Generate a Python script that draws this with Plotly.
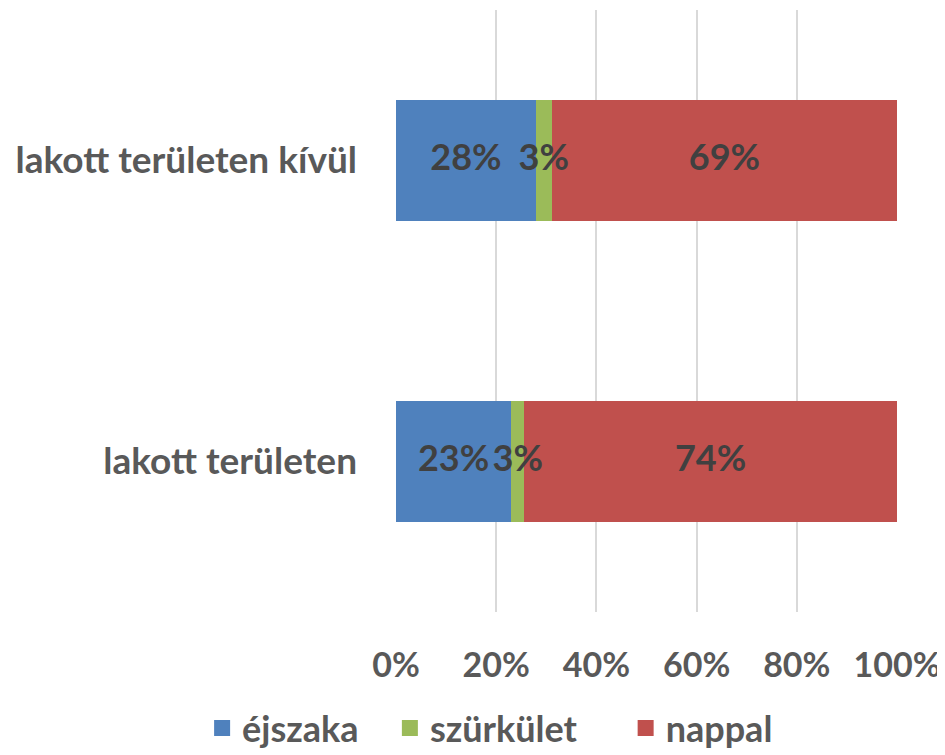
import plotly.graph_objects as go

categories = ["lakott területen", "lakott területen kívül"]
series_names = ["éjszaka", "szürkület", "nappal"]
ejszaka = [23.0, 27.9]
szurkulet = [2.6, 3.2]
nappal = [74.4, 68.9]
tick_vals = [0, 20, 40, 60, 80, 100]
tick_text = ["0%", "20%", "40%", "60%", "80%", "100%"]

colors = ["#4F81BD", "#9BBB59", "#C0504D"]
FONT = "Lato"
FS = 36

series = [ejszaka, szurkulet, nappal]

fig = go.Figure()
for name, vals, col in zip(series_names, series, colors):
    fig.add_trace(go.Bar(
        y=categories, x=vals, name=name, orientation="h",
        marker=dict(color=col, line=dict(width=0)),
        width=0.4, showlegend=False, hoverinfo="skip",
    ))

# data labels on top of all bars (centered on each segment)
lab_x, lab_y, lab_t = [], [], []
base = [0.0] * len(categories)
for vals in series:
    for i, v in enumerate(vals):
        lab_x.append(base[i] + v / 2)
        lab_y.append(categories[i])
        lab_t.append(f"{round(v):.0f}%")
        base[i] += v
fig.add_trace(go.Scatter(
    x=lab_x, y=lab_y, text=lab_t, mode="text", showlegend=False,
    textposition="middle center", cliponaxis=False, hoverinfo="skip",
    textfont=dict(family=FONT, size=FS, color="#404040", weight="bold"),
))

# legend entries (square swatches)
pads = ["\u00a0" * 3, "\u00a0" * 5, ""]
for name, col, pad in zip(series_names, colors, pads):
    fig.add_trace(go.Scatter(
        x=[None], y=[None], mode="markers",
        name=name + pad,
        marker=dict(symbol="square", size=16, color=col),
    ))

fig.update_layout(
    width=937, height=747,
    barmode="stack",
    margin=dict(l=388, r=48, t=2, b=143, autoexpand=False),
    plot_bgcolor="white", paper_bgcolor="white",
    showlegend=True,
    legend=dict(orientation="h", x=-0.387, xanchor="left",
                y=-0.193, yanchor="middle", bgcolor="rgba(0,0,0,0)",
                font=dict(family=FONT, size=FS, color="#595959", weight="bold"),
                itemsizing="trace", itemwidth=30, traceorder="normal"),
    xaxis=dict(range=[0, 100], tickvals=tick_vals, ticktext=tick_text,
               showgrid=True, gridcolor="#d9d9d9", gridwidth=1.5,
               zeroline=False, showline=False, ticks="",
               ticklabelstandoff=30,
               tickfont=dict(family=FONT, size=34, color="#595959", weight="bold")),
    yaxis=dict(range=[-0.5, 1.5], showgrid=False, zeroline=False, showline=False,
               ticks="", ticklabelstandoff=38,
               tickfont=dict(family=FONT, size=37, color="#595959", weight="bold")),
)

fig.write_html("out.html")
